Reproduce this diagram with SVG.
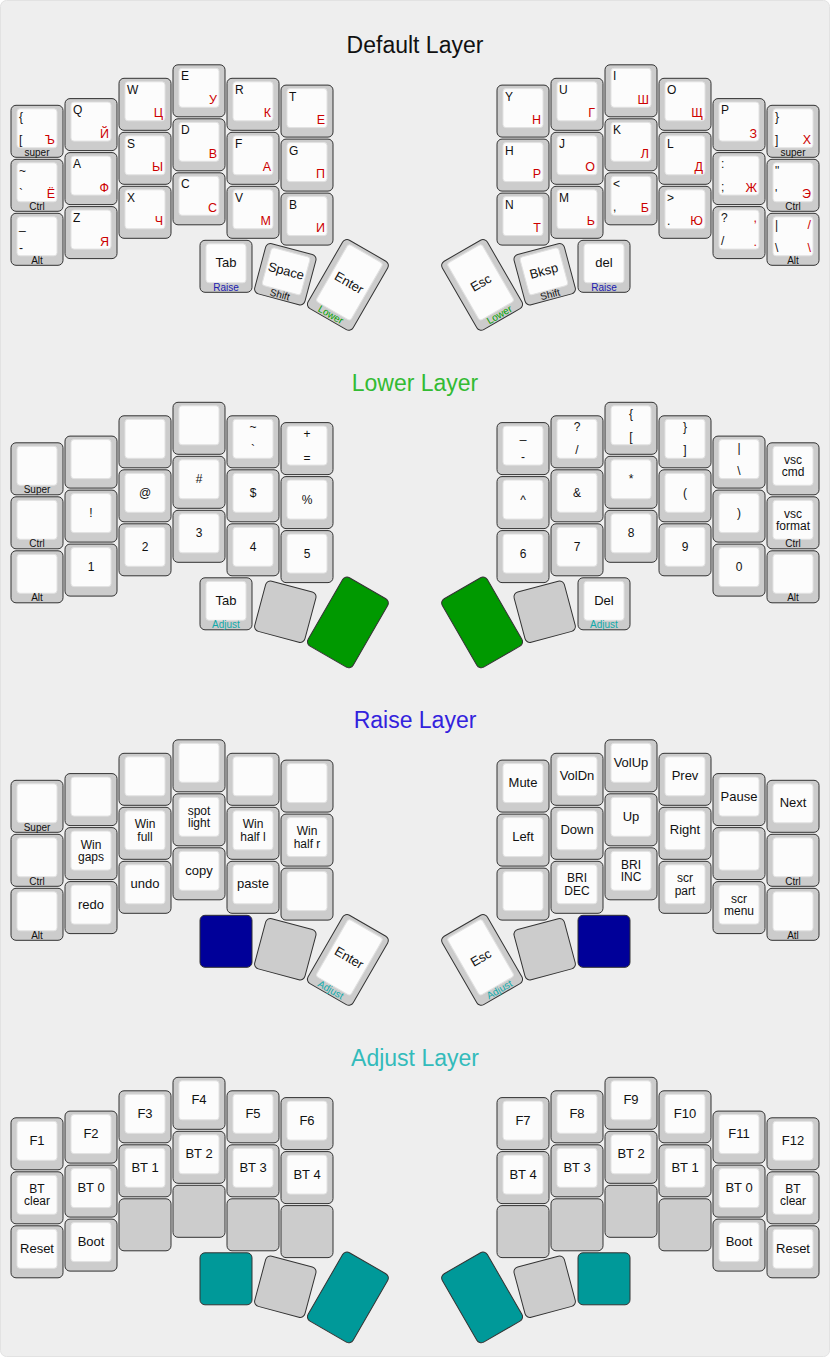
<svg xmlns="http://www.w3.org/2000/svg" xmlns:xlink="http://www.w3.org/1999/xlink" width="830" height="1357" viewBox="0 0 830 1357">
<style>
text{font-family:"Liberation Sans",Arial,Helvetica,sans-serif;fill:#111}
.o{fill:#cccccc;stroke:#333;stroke-width:1}
.i{fill:#fcfcfc;stroke:#e2e2e2;stroke-width:1}
.p{fill:#cccccc;stroke:#333;stroke-width:1}
.g{fill:#009900;stroke:#333;stroke-width:1}
.n{fill:#000099;stroke:#333;stroke-width:1}
.t{fill:#009999;stroke:#333;stroke-width:1}
.tl{font-size:12px}
.rd{font-size:12.5px;fill:#c00;text-anchor:end}
.m{font-size:12px;text-anchor:middle}
.c{font-size:13px;text-anchor:middle}
.c2{font-size:12px;text-anchor:middle}
.f{font-size:10px;text-anchor:middle;fill:#111}
.fr{fill:#2020b0}
.fl{fill:#00a000}
.fa{fill:#11aaaa}
.title{font-size:23px;text-anchor:middle}
</style>
<defs>
<g id="k"><rect class="o" width="52" height="52" rx="5"/><rect class="i" x="6" y="3.5" width="40" height="39" rx="3"/></g>
<g id="kc"><rect class="o" x="-26" y="-26" width="52" height="52" rx="5"/><rect class="i" x="-20" y="-22.5" width="40" height="39" rx="3"/></g>
<g id="kt"><rect class="o" x="-26" y="-39.5" width="52" height="79" rx="5"/><rect class="i" x="-20" y="-36" width="40" height="66" rx="3"/></g>
<rect id="pk" width="52" height="52" rx="5"/>
<rect id="pc" x="-26" y="-26" width="52" height="52" rx="5"/>
<rect id="pt" x="-26" y="-39.5" width="52" height="79" rx="5"/>
</defs>
<rect x="0.5" y="0.5" width="829" height="1356" rx="6" fill="#eeeeee" stroke="#e2e2e2"/>

<!-- DEFAULT LAYER -->
<g id="layer-default">
<text class="title" x="415" y="53.3">Default Layer</text>
<g id="d-l00" transform="translate(11,105.3)"><use href="#k"/><text class="tl" x="8" y="15.5">{</text><text class="tl" x="8" y="38.5">[</text><text class="rd" x="44" y="39">Ъ</text><text class="f" x="26" y="50.4">super</text></g>
<g id="d-l01" transform="translate(11,159.3)"><use href="#k"/><text class="tl" x="8" y="15.5">~</text><text class="tl" x="8" y="38.5">`</text><text class="rd" x="44" y="39">Ё</text><text class="f" x="26" y="50.4">Ctrl</text></g>
<g id="d-l02" transform="translate(11,213.3)"><use href="#k"/><text class="tl" x="8" y="15.5">_</text><text class="tl" x="8" y="38.5">-</text><text class="f" x="26" y="50.4">Alt</text></g>
<g id="d-l10" transform="translate(65,98.6)"><use href="#k"/><text class="tl" x="8" y="15.5">Q</text><text class="rd" x="44" y="39">Й</text></g>
<g id="d-l11" transform="translate(65,152.6)"><use href="#k"/><text class="tl" x="8" y="15.5">A</text><text class="rd" x="44" y="39">Ф</text></g>
<g id="d-l12" transform="translate(65,206.6)"><use href="#k"/><text class="tl" x="8" y="15.5">Z</text><text class="rd" x="44" y="39">Я</text></g>
<g id="d-l20" transform="translate(119,78.3)"><use href="#k"/><text class="tl" x="8" y="15.5">W</text><text class="rd" x="44" y="39">Ц</text></g>
<g id="d-l21" transform="translate(119,132.3)"><use href="#k"/><text class="tl" x="8" y="15.5">S</text><text class="rd" x="44" y="39">Ы</text></g>
<g id="d-l22" transform="translate(119,186.3)"><use href="#k"/><text class="tl" x="8" y="15.5">X</text><text class="rd" x="44" y="39">Ч</text></g>
<g id="d-l30" transform="translate(173,64.8)"><use href="#k"/><text class="tl" x="8" y="15.5">E</text><text class="rd" x="44" y="39">У</text></g>
<g id="d-l31" transform="translate(173,118.8)"><use href="#k"/><text class="tl" x="8" y="15.5">D</text><text class="rd" x="44" y="39">В</text></g>
<g id="d-l32" transform="translate(173,172.8)"><use href="#k"/><text class="tl" x="8" y="15.5">C</text><text class="rd" x="44" y="39">С</text></g>
<g id="d-l40" transform="translate(227,78.3)"><use href="#k"/><text class="tl" x="8" y="15.5">R</text><text class="rd" x="44" y="39">К</text></g>
<g id="d-l41" transform="translate(227,132.3)"><use href="#k"/><text class="tl" x="8" y="15.5">F</text><text class="rd" x="44" y="39">А</text></g>
<g id="d-l42" transform="translate(227,186.3)"><use href="#k"/><text class="tl" x="8" y="15.5">V</text><text class="rd" x="44" y="39">М</text></g>
<g id="d-l50" transform="translate(281,85.1)"><use href="#k"/><text class="tl" x="8" y="15.5">T</text><text class="rd" x="44" y="39">Е</text></g>
<g id="d-l51" transform="translate(281,139.1)"><use href="#k"/><text class="tl" x="8" y="15.5">G</text><text class="rd" x="44" y="39">П</text></g>
<g id="d-l52" transform="translate(281,193.1)"><use href="#k"/><text class="tl" x="8" y="15.5">B</text><text class="rd" x="44" y="39">И</text></g>
<g id="d-lt0" transform="translate(200,240.3)"><use href="#k"/><text class="c" x="26" y="27">Tab</text><text class="f fr" x="26" y="50.4">Raise</text></g>
<g id="d-lt1" transform="translate(285.3,274.2) rotate(15)"><use href="#kc"/><text class="c" x="0" y="1">Space</text><text class="f" x="0" y="24.4">Shift</text></g>
<g id="d-lt2" transform="translate(347.9,284.9) rotate(30)"><use href="#kt"/><text class="c" x="0" y="2">Enter</text><text class="f fl" x="0" y="37.8">Lower</text></g>
<g id="d-r00" transform="translate(497,85.1)"><use href="#k"/><text class="tl" x="8" y="15.5">Y</text><text class="rd" x="44" y="39">Н</text></g>
<g id="d-r01" transform="translate(497,139.1)"><use href="#k"/><text class="tl" x="8" y="15.5">H</text><text class="rd" x="44" y="39">Р</text></g>
<g id="d-r02" transform="translate(497,193.1)"><use href="#k"/><text class="tl" x="8" y="15.5">N</text><text class="rd" x="44" y="39">Т</text></g>
<g id="d-r10" transform="translate(551,78.3)"><use href="#k"/><text class="tl" x="8" y="15.5">U</text><text class="rd" x="44" y="39">Г</text></g>
<g id="d-r11" transform="translate(551,132.3)"><use href="#k"/><text class="tl" x="8" y="15.5">J</text><text class="rd" x="44" y="39">О</text></g>
<g id="d-r12" transform="translate(551,186.3)"><use href="#k"/><text class="tl" x="8" y="15.5">M</text><text class="rd" x="44" y="39">Ь</text></g>
<g id="d-r20" transform="translate(605,64.8)"><use href="#k"/><text class="tl" x="8" y="15.5">I</text><text class="rd" x="44" y="39">Ш</text></g>
<g id="d-r21" transform="translate(605,118.8)"><use href="#k"/><text class="tl" x="8" y="15.5">K</text><text class="rd" x="44" y="39">Л</text></g>
<g id="d-r22" transform="translate(605,172.8)"><use href="#k"/><text class="tl" x="8" y="15.5">&lt;</text><text class="tl" x="8" y="38.5">,</text><text class="rd" x="44" y="39">Б</text></g>
<g id="d-r30" transform="translate(659,78.3)"><use href="#k"/><text class="tl" x="8" y="15.5">O</text><text class="rd" x="44" y="39">Щ</text></g>
<g id="d-r31" transform="translate(659,132.3)"><use href="#k"/><text class="tl" x="8" y="15.5">L</text><text class="rd" x="44" y="39">Д</text></g>
<g id="d-r32" transform="translate(659,186.3)"><use href="#k"/><text class="tl" x="8" y="15.5">&gt;</text><text class="tl" x="8" y="38.5">.</text><text class="rd" x="44" y="39">Ю</text></g>
<g id="d-r40" transform="translate(713,98.6)"><use href="#k"/><text class="tl" x="8" y="15.5">P</text><text class="rd" x="44" y="39">З</text></g>
<g id="d-r41" transform="translate(713,152.6)"><use href="#k"/><text class="tl" x="8" y="15.5">:</text><text class="tl" x="8" y="38.5">;</text><text class="rd" x="44" y="39">Ж</text></g>
<g id="d-r42" transform="translate(713,206.6)"><use href="#k"/><text class="tl" x="8" y="15.5">?</text><text class="tl" x="8" y="38.5">/</text><text class="rd" x="44" y="15.5">,</text><text class="rd" x="44" y="39">.</text></g>
<g id="d-r50" transform="translate(767,105.3)"><use href="#k"/><text class="tl" x="8" y="15.5">}</text><text class="tl" x="8" y="38.5">]</text><text class="rd" x="44" y="39">Х</text><text class="f" x="26" y="50.4">super</text></g>
<g id="d-r51" transform="translate(767,159.3)"><use href="#k"/><text class="tl" x="8" y="15.5">"</text><text class="tl" x="8" y="38.5">'</text><text class="rd" x="44" y="39">Э</text><text class="f" x="26" y="50.4">Ctrl</text></g>
<g id="d-r52" transform="translate(767,213.3)"><use href="#k"/><text class="tl" x="8" y="15.5">|</text><text class="tl" x="8" y="38.5">\</text><text class="rd" x="44" y="15.5">/</text><text class="rd" x="44" y="39">\</text><text class="f" x="26" y="50.4">Alt</text></g>
<g id="d-rt0" transform="translate(578,240.3)"><use href="#k"/><text class="c" x="26" y="27">del</text><text class="f fr" x="26" y="50.4">Raise</text></g>
<g id="d-rt1" transform="translate(544.7,274.2) rotate(-15)"><use href="#kc"/><text class="c" x="0" y="1">Bksp</text><text class="f" x="0" y="24.4">Shift</text></g>
<g id="d-rt2" transform="translate(482.1,284.9) rotate(-30)"><use href="#kt"/><text class="c" x="0" y="2">Esc</text><text class="f fl" x="0" y="37.8">Lower</text></g>
</g>

<!-- LOWER LAYER -->
<g id="layer-lower" transform="translate(0,337.5)">
<text class="title" x="415" y="53.3" style="fill:#33bb33">Lower Layer</text>
<g id="l-l00" transform="translate(11,105.3)"><use href="#k"/><text class="f" x="26" y="50.4">Super</text></g>
<g id="l-l01" transform="translate(11,159.3)"><use href="#k"/><text class="f" x="26" y="50.4">Ctrl</text></g>
<g id="l-l02" transform="translate(11,213.3)"><use href="#k"/><text class="f" x="26" y="50.4">Alt</text></g>
<g id="l-l10" transform="translate(65,98.6)"><use href="#k"/></g>
<g id="l-l11" transform="translate(65,152.6)"><use href="#k"/><text class="m" x="26" y="27">!</text></g>
<g id="l-l12" transform="translate(65,206.6)"><use href="#k"/><text class="m" x="26" y="27">1</text></g>
<g id="l-l20" transform="translate(119,78.3)"><use href="#k"/></g>
<g id="l-l21" transform="translate(119,132.3)"><use href="#k"/><text class="m" x="26" y="27">@</text></g>
<g id="l-l22" transform="translate(119,186.3)"><use href="#k"/><text class="m" x="26" y="27">2</text></g>
<g id="l-l30" transform="translate(173,64.8)"><use href="#k"/></g>
<g id="l-l31" transform="translate(173,118.8)"><use href="#k"/><text class="m" x="26" y="27">#</text></g>
<g id="l-l32" transform="translate(173,172.8)"><use href="#k"/><text class="m" x="26" y="27">3</text></g>
<g id="l-l40" transform="translate(227,78.3)"><use href="#k"/><text class="m" x="26" y="15.5">~</text><text class="m" x="26" y="38.5">`</text></g>
<g id="l-l41" transform="translate(227,132.3)"><use href="#k"/><text class="m" x="26" y="27">$</text></g>
<g id="l-l42" transform="translate(227,186.3)"><use href="#k"/><text class="m" x="26" y="27">4</text></g>
<g id="l-l50" transform="translate(281,85.1)"><use href="#k"/><text class="m" x="26" y="15.5">+</text><text class="m" x="26" y="39.5">=</text></g>
<g id="l-l51" transform="translate(281,139.1)"><use href="#k"/><text class="m" x="26" y="27">%</text></g>
<g id="l-l52" transform="translate(281,193.1)"><use href="#k"/><text class="m" x="26" y="27">5</text></g>
<g id="l-lt0" transform="translate(200,240.3)"><use href="#k"/><text class="c" x="26" y="27">Tab</text><text class="f fa" x="26" y="50.4">Adjust</text></g>
<g id="l-lt1" transform="translate(285.3,274.2) rotate(15)"><use href="#pc" class="p"/></g>
<g id="l-lt2" transform="translate(347.9,284.9) rotate(30)"><use href="#pt" class="g"/></g>
<g id="l-r00" transform="translate(497,85.1)"><use href="#k"/><text class="m" x="26" y="15.5">_</text><text class="m" x="26" y="38.5">-</text></g>
<g id="l-r01" transform="translate(497,139.1)"><use href="#k"/><text class="m" x="26" y="27">^</text></g>
<g id="l-r02" transform="translate(497,193.1)"><use href="#k"/><text class="m" x="26" y="27">6</text></g>
<g id="l-r10" transform="translate(551,78.3)"><use href="#k"/><text class="m" x="26" y="15.5">?</text><text class="m" x="26" y="38.5">/</text></g>
<g id="l-r11" transform="translate(551,132.3)"><use href="#k"/><text class="m" x="26" y="27">&amp;</text></g>
<g id="l-r12" transform="translate(551,186.3)"><use href="#k"/><text class="m" x="26" y="27">7</text></g>
<g id="l-r20" transform="translate(605,64.8)"><use href="#k"/><text class="m" x="26" y="15.5">{</text><text class="m" x="26" y="38.5">[</text></g>
<g id="l-r21" transform="translate(605,118.8)"><use href="#k"/><text class="m" x="26" y="27">*</text></g>
<g id="l-r22" transform="translate(605,172.8)"><use href="#k"/><text class="m" x="26" y="27">8</text></g>
<g id="l-r30" transform="translate(659,78.3)"><use href="#k"/><text class="m" x="26" y="15.5">}</text><text class="m" x="26" y="38.5">]</text></g>
<g id="l-r31" transform="translate(659,132.3)"><use href="#k"/><text class="m" x="26" y="27">(</text></g>
<g id="l-r32" transform="translate(659,186.3)"><use href="#k"/><text class="m" x="26" y="27">9</text></g>
<g id="l-r40" transform="translate(713,98.6)"><use href="#k"/><text class="m" x="26" y="15.5">|</text><text class="m" x="26" y="38.5">\</text></g>
<g id="l-r41" transform="translate(713,152.6)"><use href="#k"/><text class="m" x="26" y="27">)</text></g>
<g id="l-r42" transform="translate(713,206.6)"><use href="#k"/><text class="m" x="26" y="27">0</text></g>
<g id="l-r50" transform="translate(767,105.3)"><use href="#k"/><text class="c2" x="26" y="21">vsc<tspan x="26" y="33.5">cmd</tspan></text></g>
<g id="l-r51" transform="translate(767,159.3)"><use href="#k"/><text class="c2" x="26" y="21">vsc<tspan x="26" y="33.5">format</tspan></text><text class="f" x="26" y="50.4">Ctrl</text></g>
<g id="l-r52" transform="translate(767,213.3)"><use href="#k"/><text class="f" x="26" y="50.4">Alt</text></g>
<g id="l-rt0" transform="translate(578,240.3)"><use href="#k"/><text class="c" x="26" y="27">Del</text><text class="f fa" x="26" y="50.4">Adjust</text></g>
<g id="l-rt1" transform="translate(544.7,274.2) rotate(-15)"><use href="#pc" class="p"/></g>
<g id="l-rt2" transform="translate(482.1,284.9) rotate(-30)"><use href="#pt" class="g"/></g>
</g>

<!-- RAISE LAYER -->
<g id="layer-raise" transform="translate(0,675)">
<text class="title" x="415" y="53.3" style="fill:#3322dd">Raise Layer</text>
<g id="r-l00" transform="translate(11,105.3)"><use href="#k"/><text class="f" x="26" y="50.4">Super</text></g>
<g id="r-l01" transform="translate(11,159.3)"><use href="#k"/><text class="f" x="26" y="50.4">Ctrl</text></g>
<g id="r-l02" transform="translate(11,213.3)"><use href="#k"/><text class="f" x="26" y="50.4">Alt</text></g>
<g id="r-l10" transform="translate(65,98.6)"><use href="#k"/></g>
<g id="r-l11" transform="translate(65,152.6)"><use href="#k"/><text class="c2" x="26" y="21">Win<tspan x="26" y="33.5">gaps</tspan></text></g>
<g id="r-l12" transform="translate(65,206.6)"><use href="#k"/><text class="c" x="26" y="27">redo</text></g>
<g id="r-l20" transform="translate(119,78.3)"><use href="#k"/></g>
<g id="r-l21" transform="translate(119,132.3)"><use href="#k"/><text class="c2" x="26" y="21">Win<tspan x="26" y="33.5">full</tspan></text></g>
<g id="r-l22" transform="translate(119,186.3)"><use href="#k"/><text class="c" x="26" y="27">undo</text></g>
<g id="r-l30" transform="translate(173,64.8)"><use href="#k"/></g>
<g id="r-l31" transform="translate(173,118.8)"><use href="#k"/><text class="c2" x="26" y="21">spot<tspan x="26" y="33.5">light</tspan></text></g>
<g id="r-l32" transform="translate(173,172.8)"><use href="#k"/><text class="c" x="26" y="27">copy</text></g>
<g id="r-l40" transform="translate(227,78.3)"><use href="#k"/></g>
<g id="r-l41" transform="translate(227,132.3)"><use href="#k"/><text class="c2" x="26" y="21">Win<tspan x="26" y="33.5">half l</tspan></text></g>
<g id="r-l42" transform="translate(227,186.3)"><use href="#k"/><text class="c" x="26" y="27">paste</text></g>
<g id="r-l50" transform="translate(281,85.1)"><use href="#k"/></g>
<g id="r-l51" transform="translate(281,139.1)"><use href="#k"/><text class="c2" x="26" y="21">Win<tspan x="26" y="33.5">half r</tspan></text></g>
<g id="r-l52" transform="translate(281,193.1)"><use href="#k"/></g>
<g id="r-lt0" transform="translate(200,240.3)"><use href="#pk" class="n"/></g>
<g id="r-lt1" transform="translate(285.3,274.2) rotate(15)"><use href="#pc" class="p"/></g>
<g id="r-lt2" transform="translate(347.9,284.9) rotate(30)"><use href="#kt"/><text class="c" x="0" y="2">Enter</text><text class="f fa" x="0" y="37.8">Adjust</text></g>
<g id="r-r00" transform="translate(497,85.1)"><use href="#k"/><text class="c" x="26" y="27">Mute</text></g>
<g id="r-r01" transform="translate(497,139.1)"><use href="#k"/><text class="c" x="26" y="27">Left</text></g>
<g id="r-r02" transform="translate(497,193.1)"><use href="#k"/></g>
<g id="r-r10" transform="translate(551,78.3)"><use href="#k"/><text class="c" x="26" y="27">VolDn</text></g>
<g id="r-r11" transform="translate(551,132.3)"><use href="#k"/><text class="c" x="26" y="27">Down</text></g>
<g id="r-r12" transform="translate(551,186.3)"><use href="#k"/><text class="c2" x="26" y="21">BRI<tspan x="26" y="33.5">DEC</tspan></text></g>
<g id="r-r20" transform="translate(605,64.8)"><use href="#k"/><text class="c" x="26" y="27">VolUp</text></g>
<g id="r-r21" transform="translate(605,118.8)"><use href="#k"/><text class="c" x="26" y="27">Up</text></g>
<g id="r-r22" transform="translate(605,172.8)"><use href="#k"/><text class="c2" x="26" y="21">BRI<tspan x="26" y="33.5">INC</tspan></text></g>
<g id="r-r30" transform="translate(659,78.3)"><use href="#k"/><text class="c" x="26" y="27">Prev</text></g>
<g id="r-r31" transform="translate(659,132.3)"><use href="#k"/><text class="c" x="26" y="27">Right</text></g>
<g id="r-r32" transform="translate(659,186.3)"><use href="#k"/><text class="c2" x="26" y="21">scr<tspan x="26" y="33.5">part</tspan></text></g>
<g id="r-r40" transform="translate(713,98.6)"><use href="#k"/><text class="c" x="26" y="27">Pause</text></g>
<g id="r-r41" transform="translate(713,152.6)"><use href="#k"/></g>
<g id="r-r42" transform="translate(713,206.6)"><use href="#k"/><text class="c2" x="26" y="21">scr<tspan x="26" y="33.5">menu</tspan></text></g>
<g id="r-r50" transform="translate(767,105.3)"><use href="#k"/><text class="c" x="26" y="27">Next</text></g>
<g id="r-r51" transform="translate(767,159.3)"><use href="#k"/><text class="f" x="26" y="50.4">Ctrl</text></g>
<g id="r-r52" transform="translate(767,213.3)"><use href="#k"/><text class="f" x="26" y="50.4">Atl</text></g>
<g id="r-rt0" transform="translate(578,240.3)"><use href="#pk" class="n"/></g>
<g id="r-rt1" transform="translate(544.7,274.2) rotate(-15)"><use href="#pc" class="p"/></g>
<g id="r-rt2" transform="translate(482.1,284.9) rotate(-30)"><use href="#kt"/><text class="c" x="0" y="2">Esc</text><text class="f fa" x="0" y="37.8">Adjust</text></g>
</g>

<!-- ADJUST LAYER -->
<g id="layer-adjust" transform="translate(0,1012.5)">
<text class="title" x="415" y="53.3" style="fill:#33bbbb">Adjust Layer</text>
<g id="a-l00" transform="translate(11,105.3)"><use href="#k"/><text class="c" x="26" y="27">F1</text></g>
<g id="a-l01" transform="translate(11,159.3)"><use href="#k"/><text class="c2" x="26" y="21">BT<tspan x="26" y="33.5">clear</tspan></text></g>
<g id="a-l02" transform="translate(11,213.3)"><use href="#k"/><text class="c" x="26" y="27">Reset</text></g>
<g id="a-l10" transform="translate(65,98.6)"><use href="#k"/><text class="c" x="26" y="27">F2</text></g>
<g id="a-l11" transform="translate(65,152.6)"><use href="#k"/><text class="c" x="26" y="27">BT 0</text></g>
<g id="a-l12" transform="translate(65,206.6)"><use href="#k"/><text class="c" x="26" y="27">Boot</text></g>
<g id="a-l20" transform="translate(119,78.3)"><use href="#k"/><text class="c" x="26" y="27">F3</text></g>
<g id="a-l21" transform="translate(119,132.3)"><use href="#k"/><text class="c" x="26" y="27">BT 1</text></g>
<g id="a-l22" transform="translate(119,186.3)"><use href="#pk" class="p"/></g>
<g id="a-l30" transform="translate(173,64.8)"><use href="#k"/><text class="c" x="26" y="27">F4</text></g>
<g id="a-l31" transform="translate(173,118.8)"><use href="#k"/><text class="c" x="26" y="27">BT 2</text></g>
<g id="a-l32" transform="translate(173,172.8)"><use href="#pk" class="p"/></g>
<g id="a-l40" transform="translate(227,78.3)"><use href="#k"/><text class="c" x="26" y="27">F5</text></g>
<g id="a-l41" transform="translate(227,132.3)"><use href="#k"/><text class="c" x="26" y="27">BT 3</text></g>
<g id="a-l42" transform="translate(227,186.3)"><use href="#pk" class="p"/></g>
<g id="a-l50" transform="translate(281,85.1)"><use href="#k"/><text class="c" x="26" y="27">F6</text></g>
<g id="a-l51" transform="translate(281,139.1)"><use href="#k"/><text class="c" x="26" y="27">BT 4</text></g>
<g id="a-l52" transform="translate(281,193.1)"><use href="#pk" class="p"/></g>
<g id="a-lt0" transform="translate(200,240.3)"><use href="#pk" class="t"/></g>
<g id="a-lt1" transform="translate(285.3,274.2) rotate(15)"><use href="#pc" class="p"/></g>
<g id="a-lt2" transform="translate(347.9,284.9) rotate(30)"><use href="#pt" class="t"/></g>
<g id="a-r00" transform="translate(497,85.1)"><use href="#k"/><text class="c" x="26" y="27">F7</text></g>
<g id="a-r01" transform="translate(497,139.1)"><use href="#k"/><text class="c" x="26" y="27">BT 4</text></g>
<g id="a-r02" transform="translate(497,193.1)"><use href="#pk" class="p"/></g>
<g id="a-r10" transform="translate(551,78.3)"><use href="#k"/><text class="c" x="26" y="27">F8</text></g>
<g id="a-r11" transform="translate(551,132.3)"><use href="#k"/><text class="c" x="26" y="27">BT 3</text></g>
<g id="a-r12" transform="translate(551,186.3)"><use href="#pk" class="p"/></g>
<g id="a-r20" transform="translate(605,64.8)"><use href="#k"/><text class="c" x="26" y="27">F9</text></g>
<g id="a-r21" transform="translate(605,118.8)"><use href="#k"/><text class="c" x="26" y="27">BT 2</text></g>
<g id="a-r22" transform="translate(605,172.8)"><use href="#pk" class="p"/></g>
<g id="a-r30" transform="translate(659,78.3)"><use href="#k"/><text class="c" x="26" y="27">F10</text></g>
<g id="a-r31" transform="translate(659,132.3)"><use href="#k"/><text class="c" x="26" y="27">BT 1</text></g>
<g id="a-r32" transform="translate(659,186.3)"><use href="#pk" class="p"/></g>
<g id="a-r40" transform="translate(713,98.6)"><use href="#k"/><text class="c" x="26" y="27">F11</text></g>
<g id="a-r41" transform="translate(713,152.6)"><use href="#k"/><text class="c" x="26" y="27">BT 0</text></g>
<g id="a-r42" transform="translate(713,206.6)"><use href="#k"/><text class="c" x="26" y="27">Boot</text></g>
<g id="a-r50" transform="translate(767,105.3)"><use href="#k"/><text class="c" x="26" y="27">F12</text></g>
<g id="a-r51" transform="translate(767,159.3)"><use href="#k"/><text class="c2" x="26" y="21">BT<tspan x="26" y="33.5">clear</tspan></text></g>
<g id="a-r52" transform="translate(767,213.3)"><use href="#k"/><text class="c" x="26" y="27">Reset</text></g>
<g id="a-rt0" transform="translate(578,240.3)"><use href="#pk" class="t"/></g>
<g id="a-rt1" transform="translate(544.7,274.2) rotate(-15)"><use href="#pc" class="p"/></g>
<g id="a-rt2" transform="translate(482.1,284.9) rotate(-30)"><use href="#pt" class="t"/></g>
</g>
<g id="connectors"/>
</svg>
